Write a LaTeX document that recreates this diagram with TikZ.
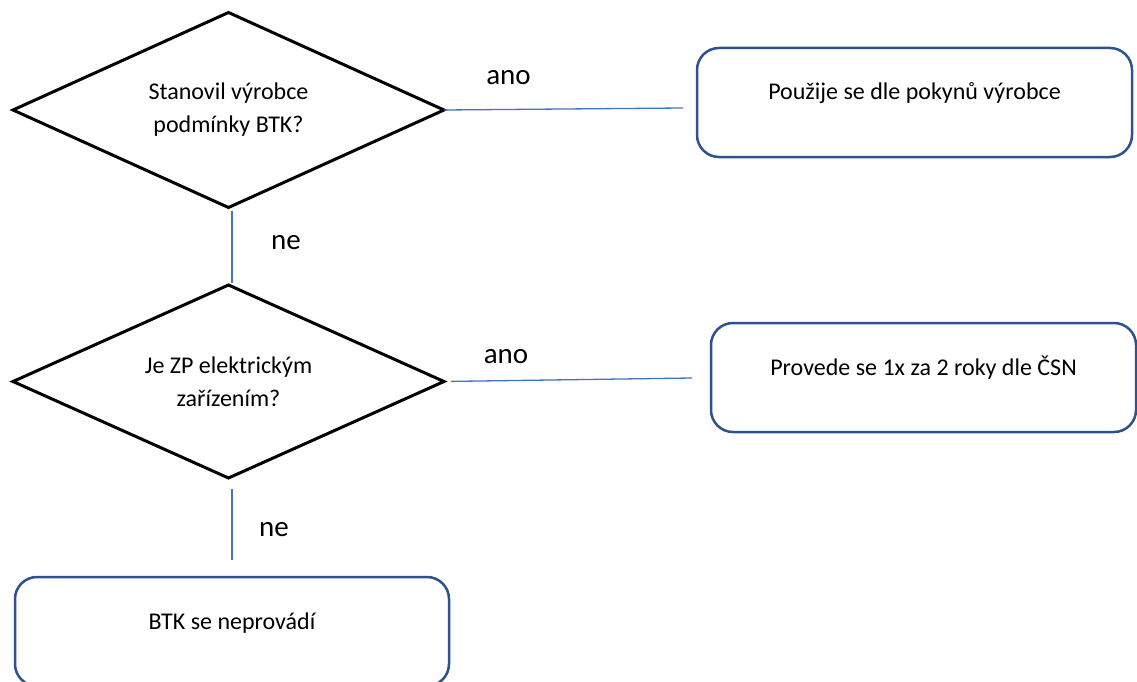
\documentclass[tikz,border=0pt]{standalone}
\usepackage{fontspec}
\setmainfont{Carlito}
\usetikzlibrary{shapes.geometric}
\definecolor{spoj}{HTML}{4472C4}
\definecolor{ramec}{HTML}{2F528F}
\tikzset{
    otazka/.style={diamond, draw=black, line width=3pt, aspect=2.2, inner sep=0pt, outer sep=0pt,
        align=center, font=\fontsize{24}{33}\selectfont},
    krok/.style={rectangle, rounded corners=22pt, draw=ramec, line width=2.5pt, inner sep=0pt, outer sep=0pt,
        minimum width=435pt, minimum height=109pt, text height=15pt, text depth=20pt,
        font=\fontsize{24}{28}\selectfont},
    spojnice/.style={draw=spoj, line width=1.3pt},
    popis/.style={font=\fontsize{29}{32}\selectfont, inner sep=0pt}
}
\begin{document}
\begin{tikzpicture}[x=1pt, y=-1pt]
    \useasboundingbox (0,0) rectangle (1137,682);
    % otázky
    \node[otazka, minimum width=431pt, minimum height=195pt] (q1) at (228.5,110) {Stanovil výrobce\\podmínky BTK?};
    \node[otazka, minimum width=431pt, minimum height=193pt] (q2) at (228.5,381.5) {Je ZP elektrickým\\zařízením?};
    
    % výsledky
    \node[krok] (k1) at (914.5,102.5) {Použije se dle pokynů výrobce};
    \node[krok, minimum width=425pt] (k2) at (923.5,377.5) {Provede se 1x za 2 roky dle ČSN};
    \node[krok, minimum width=434pt] (k3) at (232,631.5) {BTK se neprovádí};
    
    % spojnice
    \coordinate (a1) at (683,108);
    \coordinate (a2) at (692,378);
    \draw[spojnice] (q1.east) -- node[popis, pos=.27, yshift=32pt] {ano} (a1);
    \draw[spojnice, shorten <=7pt] (q2.east) -- node[popis, pos=.25, yshift=24pt] {ano} (a2);
    \draw[spojnice, shorten <=3pt, shorten >=2pt] (q1.south -| k3.north) -- node[popis, xshift=54pt, yshift=4pt] {ne} (q2.north -| k3.north);
    \draw[spojnice, shorten <=11pt, shorten >=17pt] (q2.south -| k3.north) -- node[popis, xshift=42pt, yshift=-2.5pt] {ne} (k3.north);
\end{tikzpicture}
\end{document}
